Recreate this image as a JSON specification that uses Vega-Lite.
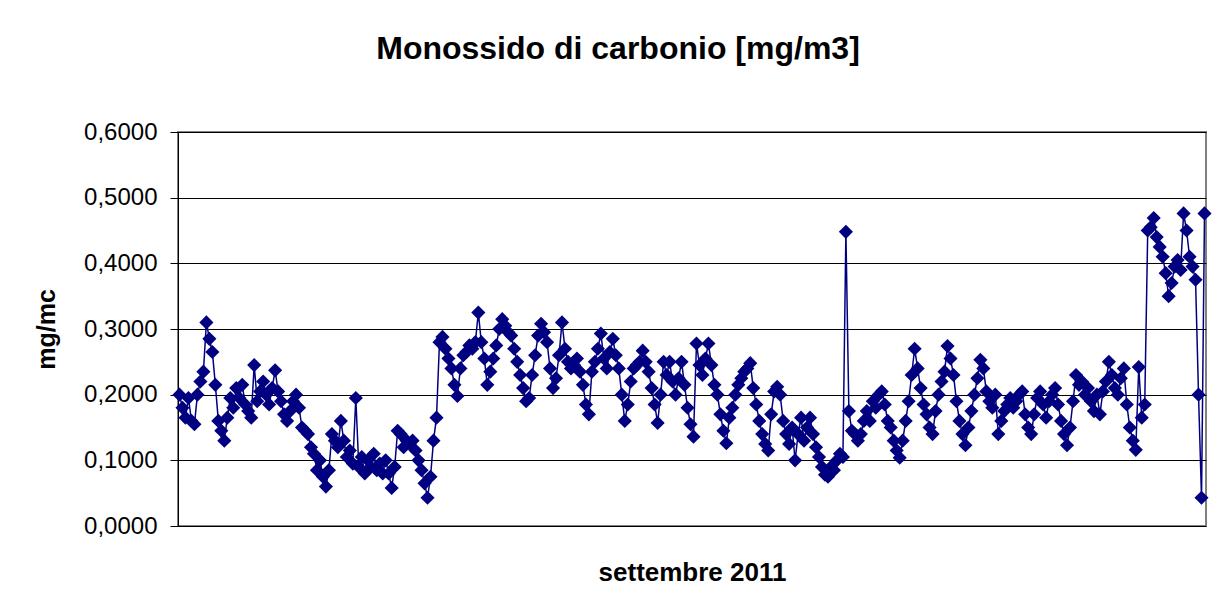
{
  "$schema": "https://vega.github.io/schema/vega-lite/v6.json",
  "width": 1028,
  "height": 394,
  "autosize": {"type": "none"},
  "padding": {"left": 178, "top": 132, "right": 17, "bottom": 83},
  "background": "white",
  "title": {"text": "Monossido di carbonio [mg/m3]", "font": "Liberation Sans", "fontSize": 32, "fontWeight": "bold", "color": "black", "anchor": "middle", "dx": -74, "offset": 29, "baseline": "alphabetic"},
  "data": {"values": [
{"k":0,"v":0.200},{"k":1,"v":0.180},{"k":2,"v":0.165},{"k":3,"v":0.195},{"k":4,"v":0.160},{"k":5,"v":0.155},{"k":6,"v":0.200},{"k":7,"v":0.220},{"k":8,"v":0.235},{"k":9,"v":0.310},
{"k":10,"v":0.285},{"k":11,"v":0.265},{"k":12,"v":0.215},{"k":13,"v":0.160},{"k":14,"v":0.145},{"k":15,"v":0.130},{"k":16,"v":0.165},{"k":17,"v":0.195},{"k":18,"v":0.180},{"k":19,"v":0.210},
{"k":20,"v":0.195},{"k":21,"v":0.215},{"k":22,"v":0.185},{"k":23,"v":0.175},{"k":24,"v":0.165},{"k":25,"v":0.245},{"k":26,"v":0.190},{"k":27,"v":0.205},{"k":28,"v":0.220},{"k":29,"v":0.200},
{"k":30,"v":0.185},{"k":31,"v":0.210},{"k":32,"v":0.237},{"k":33,"v":0.205},{"k":34,"v":0.190},{"k":35,"v":0.170},{"k":36,"v":0.160},{"k":37,"v":0.175},{"k":38,"v":0.190},{"k":39,"v":0.200},
{"k":40,"v":0.180},{"k":41,"v":0.150},{"k":42,"v":0.145},{"k":43,"v":0.140},{"k":44,"v":0.120},{"k":45,"v":0.110},{"k":46,"v":0.085},{"k":47,"v":0.100},{"k":48,"v":0.075},{"k":49,"v":0.060},
{"k":50,"v":0.085},{"k":51,"v":0.140},{"k":52,"v":0.130},{"k":53,"v":0.120},{"k":54,"v":0.160},{"k":55,"v":0.130},{"k":56,"v":0.105},{"k":57,"v":0.115},{"k":58,"v":0.095},{"k":59,"v":0.195},
{"k":60,"v":0.090},{"k":61,"v":0.105},{"k":62,"v":0.080},{"k":63,"v":0.100},{"k":64,"v":0.090},{"k":65,"v":0.110},{"k":66,"v":0.085},{"k":67,"v":0.095},{"k":68,"v":0.080},{"k":69,"v":0.100},
{"k":70,"v":0.080},{"k":71,"v":0.058},{"k":72,"v":0.090},{"k":73,"v":0.145},{"k":74,"v":0.140},{"k":75,"v":0.120},{"k":76,"v":0.130},{"k":77,"v":0.125},{"k":78,"v":0.130},{"k":79,"v":0.115},
{"k":80,"v":0.100},{"k":81,"v":0.085},{"k":82,"v":0.065},{"k":83,"v":0.043},{"k":84,"v":0.075},{"k":85,"v":0.130},{"k":86,"v":0.165},{"k":87,"v":0.280},{"k":88,"v":0.288},{"k":89,"v":0.270},
{"k":90,"v":0.255},{"k":91,"v":0.240},{"k":92,"v":0.215},{"k":93,"v":0.198},{"k":94,"v":0.240},{"k":95,"v":0.260},{"k":96,"v":0.265},{"k":97,"v":0.275},{"k":98,"v":0.270},{"k":99,"v":0.280},
{"k":100,"v":0.325},{"k":101,"v":0.280},{"k":102,"v":0.255},{"k":103,"v":0.215},{"k":104,"v":0.235},{"k":105,"v":0.255},{"k":106,"v":0.275},{"k":107,"v":0.300},{"k":108,"v":0.315},{"k":109,"v":0.305},
{"k":110,"v":0.295},{"k":111,"v":0.290},{"k":112,"v":0.270},{"k":113,"v":0.250},{"k":114,"v":0.230},{"k":115,"v":0.210},{"k":116,"v":0.190},{"k":117,"v":0.195},{"k":118,"v":0.230},{"k":119,"v":0.260},
{"k":120,"v":0.290},{"k":121,"v":0.308},{"k":122,"v":0.295},{"k":123,"v":0.280},{"k":124,"v":0.240},{"k":125,"v":0.210},{"k":126,"v":0.225},{"k":127,"v":0.260},{"k":128,"v":0.310},{"k":129,"v":0.270},
{"k":130,"v":0.250},{"k":131,"v":0.240},{"k":132,"v":0.245},{"k":133,"v":0.255},{"k":134,"v":0.235},{"k":135,"v":0.215},{"k":136,"v":0.185},{"k":137,"v":0.170},{"k":138,"v":0.235},{"k":139,"v":0.250},
{"k":140,"v":0.270},{"k":141,"v":0.293},{"k":142,"v":0.255},{"k":143,"v":0.240},{"k":144,"v":0.265},{"k":145,"v":0.285},{"k":146,"v":0.260},{"k":147,"v":0.240},{"k":148,"v":0.200},{"k":149,"v":0.160},
{"k":150,"v":0.185},{"k":151,"v":0.220},{"k":152,"v":0.240},{"k":153,"v":0.245},{"k":154,"v":0.250},{"k":155,"v":0.267},{"k":156,"v":0.250},{"k":157,"v":0.235},{"k":158,"v":0.210},{"k":159,"v":0.185},
{"k":160,"v":0.157},{"k":161,"v":0.200},{"k":162,"v":0.250},{"k":163,"v":0.230},{"k":164,"v":0.250},{"k":165,"v":0.220},{"k":166,"v":0.200},{"k":167,"v":0.225},{"k":168,"v":0.250},{"k":169,"v":0.215},
{"k":170,"v":0.180},{"k":171,"v":0.155},{"k":172,"v":0.136},{"k":173,"v":0.278},{"k":174,"v":0.245},{"k":175,"v":0.230},{"k":176,"v":0.255},{"k":177,"v":0.278},{"k":178,"v":0.245},{"k":179,"v":0.215},
{"k":180,"v":0.200},{"k":181,"v":0.170},{"k":182,"v":0.145},{"k":183,"v":0.126},{"k":184,"v":0.165},{"k":185,"v":0.180},{"k":186,"v":0.200},{"k":187,"v":0.215},{"k":188,"v":0.225},{"k":189,"v":0.235},
{"k":190,"v":0.240},{"k":191,"v":0.248},{"k":192,"v":0.210},{"k":193,"v":0.185},{"k":194,"v":0.160},{"k":195,"v":0.140},{"k":196,"v":0.125},{"k":197,"v":0.115},{"k":198,"v":0.170},{"k":199,"v":0.205},
{"k":200,"v":0.212},{"k":201,"v":0.200},{"k":202,"v":0.160},{"k":203,"v":0.140},{"k":204,"v":0.125},{"k":205,"v":0.150},{"k":206,"v":0.100},{"k":207,"v":0.140},{"k":208,"v":0.165},{"k":209,"v":0.130},
{"k":210,"v":0.150},{"k":211,"v":0.165},{"k":212,"v":0.140},{"k":213,"v":0.120},{"k":214,"v":0.105},{"k":215,"v":0.090},{"k":216,"v":0.078},{"k":217,"v":0.075},{"k":218,"v":0.090},{"k":219,"v":0.085},
{"k":220,"v":0.100},{"k":221,"v":0.110},{"k":222,"v":0.105},{"k":223,"v":0.448},{"k":224,"v":0.175},{"k":225,"v":0.145},{"k":226,"v":0.140},{"k":227,"v":0.130},{"k":228,"v":0.140},{"k":229,"v":0.160},
{"k":230,"v":0.175},{"k":231,"v":0.160},{"k":232,"v":0.190},{"k":233,"v":0.180},{"k":234,"v":0.200},{"k":235,"v":0.205},{"k":236,"v":0.185},{"k":237,"v":0.160},{"k":238,"v":0.150},{"k":239,"v":0.130},
{"k":240,"v":0.115},{"k":241,"v":0.104},{"k":242,"v":0.130},{"k":243,"v":0.160},{"k":244,"v":0.190},{"k":245,"v":0.230},{"k":246,"v":0.270},{"k":247,"v":0.240},{"k":248,"v":0.210},{"k":249,"v":0.185},
{"k":250,"v":0.170},{"k":251,"v":0.150},{"k":252,"v":0.140},{"k":253,"v":0.175},{"k":254,"v":0.200},{"k":255,"v":0.220},{"k":256,"v":0.235},{"k":257,"v":0.274},{"k":258,"v":0.255},{"k":259,"v":0.230},
{"k":260,"v":0.190},{"k":261,"v":0.160},{"k":262,"v":0.140},{"k":263,"v":0.123},{"k":264,"v":0.150},{"k":265,"v":0.175},{"k":266,"v":0.200},{"k":267,"v":0.225},{"k":268,"v":0.253},{"k":269,"v":0.240},
{"k":270,"v":0.205},{"k":271,"v":0.190},{"k":272,"v":0.180},{"k":273,"v":0.200},{"k":274,"v":0.140},{"k":275,"v":0.160},{"k":276,"v":0.175},{"k":277,"v":0.185},{"k":278,"v":0.195},{"k":279,"v":0.180},
{"k":280,"v":0.190},{"k":281,"v":0.200},{"k":282,"v":0.205},{"k":283,"v":0.170},{"k":284,"v":0.150},{"k":285,"v":0.140},{"k":286,"v":0.170},{"k":287,"v":0.195},{"k":288,"v":0.205},{"k":289,"v":0.185},
{"k":290,"v":0.165},{"k":291,"v":0.190},{"k":292,"v":0.200},{"k":293,"v":0.210},{"k":294,"v":0.185},{"k":295,"v":0.160},{"k":296,"v":0.140},{"k":297,"v":0.123},{"k":298,"v":0.150},{"k":299,"v":0.190},
{"k":300,"v":0.230},{"k":301,"v":0.215},{"k":302,"v":0.220},{"k":303,"v":0.200},{"k":304,"v":0.210},{"k":305,"v":0.190},{"k":306,"v":0.175},{"k":307,"v":0.200},{"k":308,"v":0.170},{"k":309,"v":0.205},
{"k":310,"v":0.220},{"k":311,"v":0.250},{"k":312,"v":0.230},{"k":313,"v":0.210},{"k":314,"v":0.200},{"k":315,"v":0.225},{"k":316,"v":0.240},{"k":317,"v":0.185},{"k":318,"v":0.150},{"k":319,"v":0.130},
{"k":320,"v":0.116},{"k":321,"v":0.242},{"k":322,"v":0.165},{"k":323,"v":0.185},{"k":324,"v":0.450},{"k":325,"v":0.455},{"k":326,"v":0.469},{"k":327,"v":0.440},{"k":328,"v":0.425},{"k":329,"v":0.410},
{"k":330,"v":0.385},{"k":331,"v":0.350},{"k":332,"v":0.370},{"k":333,"v":0.395},{"k":334,"v":0.405},{"k":335,"v":0.390},{"k":336,"v":0.476},{"k":337,"v":0.450},{"k":338,"v":0.410},{"k":339,"v":0.395},
{"k":340,"v":0.375},{"k":341,"v":0.200},{"k":342,"v":0.043},{"k":343,"v":0.476}
  ]},
  "mark": {"type": "line", "color": "#000080", "strokeWidth": 1.5, "point": {"shape": "diamond", "size": 200, "filled": true, "color": "#000080", "opacity": 1}},
  "encoding": {
    "x": {"field": "k", "type": "quantitative", "scale": {"domain": [-0.5, 343.5], "nice": false, "zero": false},
      "axis": {"title": "settembre 2011", "labels": false, "ticks": false, "grid": false, "domain": false, "titleFont": "Liberation Sans", "titleFontSize": 26, "titleFontWeight": "bold", "titleColor": "black", "titlePadding": 33}},
    "y": {"field": "v", "type": "quantitative", "scale": {"domain": [0, 0.6], "nice": false},
      "axis": {"title": "mg/mc", "values": [0, 0.1, 0.2, 0.3, 0.4, 0.5, 0.6], "labelExpr": "replace(format(datum.value, '.4f'), '.', ',')",
        "labelFont": "Liberation Sans", "labelFontSize": 24, "labelColor": "black", "labelPadding": 13,
        "domainColor": "black", "domainWidth": 1, "tickColor": "black", "tickSize": 8, "tickWidth": 1,
        "gridColor": "black", "gridOpacity": 1, "gridWidth": 1,
        "titleFont": "Liberation Sans", "titleFontSize": 25, "titleFontWeight": "bold", "titleColor": "black", "titlePadding": 24}}
  },
  "config": {"view": {"stroke": "#808080", "strokeWidth": 2}, "font": "Liberation Sans"}
}
